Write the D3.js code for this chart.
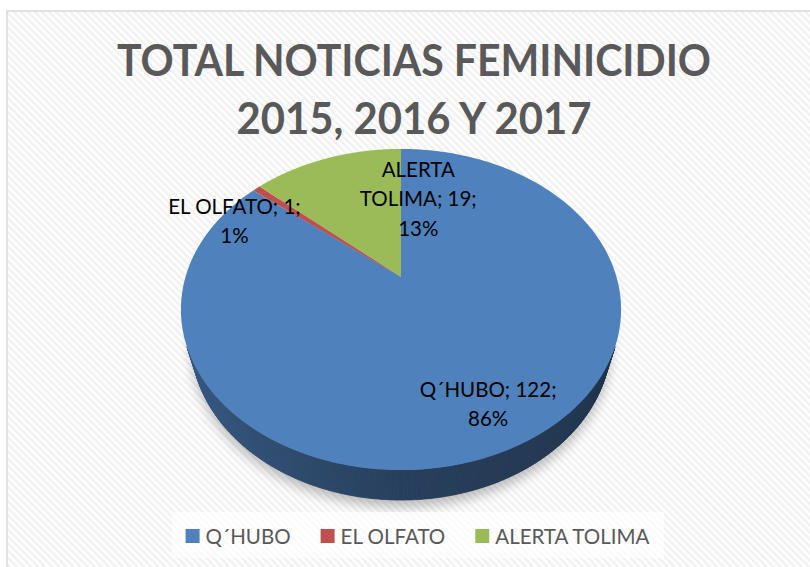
<!DOCTYPE html>
<html lang="es">
  <head>
    <meta charset="utf-8" />
    <script src="https://cdn.jsdelivr.net/npm/d3@7/dist/d3.min.js"></script>
    <title>Total noticias feminicidio</title>
    <style>
      body { margin: 0; background: #fff; }
      text { font-family: Lato, "Open Sans", sans-serif; }
    </style>
  </head>
  <body>
    <div id="container"></div>
    <script>
      // data
      const categories = ["Q´HUBO", "EL OLFATO", "ALERTA TOLIMA"];
      const values = [122, 1, 19];
      const colors = ["#4f81bd", "#c0504d", "#9bbb59"];
      const titleLines = ["TOTAL NOTICIAS FEMINICIDIO", "2015, 2016 Y 2017"];
      // where Excel dropped each label, as (angle deg, radius) on the disc
      const labelAngle = [154, 295, 9];
      const labelRadius = [0.79, 0.92, 0.57];

      const width = 810, height = 567;
      const svg = d3.select("#container").append("svg").attr("width", width).attr("height", height);
      const defs = svg.append("defs");

      const pat = defs.append("pattern").attr("id", "stripes").attr("width", 5).attr("height", 5)
        .attr("patternUnits", "userSpaceOnUse").attr("patternTransform", "rotate(-45)");
      pat.append("rect").attr("width", 5).attr("height", 5).attr("fill", "#fff");
      pat.append("rect").attr("width", 2.5).attr("height", 5).attr("fill", "#f1f1f1");

      const blur = defs.append("filter").attr("id", "shadow").attr("x", "-20%").attr("y", "-20%").attr("width", "140%").attr("height", "140%");
      blur.append("feGaussianBlur").attr("stdDeviation", 6);

      // chart area
      svg.append("rect").attr("x", 7).attr("y", 11).attr("width", 820).attr("height", 570)
        .attr("fill", "url(#stripes)").attr("stroke", "#d9d9d9").attr("stroke-width", 1.5);

      // title
      const titleLen = [594, 355];
      svg.selectAll(".title").data(titleLines).join("text").attr("class", "title")
        .attr("x", 414).attr("y", (d, i) => 76 + i * 58)
        .attr("text-anchor", "middle").attr("font-size", 43).attr("font-weight", "bold").attr("fill", "#595959")
        .attr("textLength", (d, i) => titleLen[i]).attr("lengthAdjust", "spacingAndGlyphs")
        .text((d) => d);

      // 3D perspective projection of a unit disc
      const cx = 401, cy = 277;
      const elev = (45.6 * Math.PI) / 180, sE = Math.sin(elev), cE = Math.cos(elev);
      const dist = 3.454, focal = 744.4, depth = 0.228;
      function proj(X, Y, Z) {
        const py = Y + dist * cE, pz = Z - dist * sE;
        const d = py * cE - pz * sE;
        const ys = py * sE + pz * cE;
        return [cx + (focal * X) / d, cy - (focal * ys) / d];
      }
      const onDisc = (a, r, z) => proj(r * Math.sin(a), r * Math.cos(a), z);

      const total = d3.sum(values);
      const pie = d3.pie().sort(null).value((d) => d.value);
      const arcs = pie(categories.map((c, i) => ({ name: c, value: values[i], color: colors[i], i })));
      const line = d3.line();

      function rim(a0, a1, z) {
        const n = Math.max(2, Math.ceil(((a1 - a0) * 180) / Math.PI));
        return d3.range(n + 1).map((k) => onDisc(a0 + ((a1 - a0) * k) / n, 1, z));
      }

      const g = svg.append("g");

      // soft shadow under the pie
      g.append("path").attr("d", line(rim(0, 2 * Math.PI, -depth)) + "Z")
        .attr("transform", "translate(0,7)").attr("fill", "#000").attr("opacity", 0.25).attr("filter", "url(#shadow)");

      // side wall, only the part facing the camera
      const shadeK = d3.scaleLinear().domain([-1, 0, 1]).range([0.95, 2.0, 2.6]);
      const step = Math.PI / 360;
      const wall = [];
      arcs.forEach((s) => {
        for (let a = s.startAngle; a < s.endAngle - 1e-9; a += step) {
          const b = Math.min(a + step, s.endAngle);
          const m = (a + b) / 2;
          if (Math.cos(m) < -1 / (dist * cE)) {
            wall.push({ a, b, m, color: d3.color(s.data.color).darker(shadeK(Math.sin(m))).formatHex() });
          }
        }
      });
      g.selectAll(".wall").data(wall).join("path").attr("class", "wall")
        .attr("d", (w) => line([onDisc(w.a, 1, 0), onDisc(w.b, 1, 0), onDisc(w.b, 1, -depth), onDisc(w.a, 1, -depth)]) + "Z")
        .attr("fill", (w) => w.color).attr("stroke", (w) => w.color).attr("stroke-width", 0.8);

      // top face
      g.selectAll(".slice").data(arcs).join("path").attr("class", "slice")
        .attr("d", (s) => line([proj(0, 0, 0), ...rim(s.startAngle, s.endAngle, 0)]) + "Z")
        .attr("fill", (s) => s.data.color);

      // data labels
      const labelSize = 20.5;
      const labels = svg.append("g").attr("font-size", labelSize).attr("fill", "#000").attr("text-anchor", "middle");
      const measure = svg.append("text").attr("font-size", labelSize).attr("visibility", "hidden");
      function wrap(words, maxW) {
        const out = [];
        let cur = "";
        words.forEach((w) => {
          const tryS = cur ? cur + " " + w : w;
          measure.text(tryS);
          if (cur && measure.node().getComputedTextLength() > maxW) { out.push(cur); cur = w; }
          else cur = tryS;
        });
        if (cur) out.push(cur);
        return out;
      }
      arcs.forEach((s, i) => {
        const pct = Math.round((s.data.value / total) * 100) + "%";
        const lines = wrap((s.data.name + "; " + s.data.value + "; " + pct).split(" "), 142);
        const [lx, ly] = onDisc((labelAngle[i] * Math.PI) / 180, labelRadius[i], 0);
        const lh = 29.5;
        const t = labels.append("text").attr("x", lx).attr("y", ly - ((lines.length - 1) * lh) / 2 + 7);
        lines.forEach((l, k) => t.append("tspan").attr("x", lx).attr("dy", k ? lh : 0).text(l));
      });
      measure.remove();

      // legend
      const leg = svg.append("g");
      leg.append("rect").attr("x", 172).attr("y", 512).attr("width", 492).attr("height", 46).attr("fill", "#fff").attr("opacity", 0.65);
      let lx = 0;
      const items = leg.append("g").attr("font-size", 20.5).attr("fill", "#595959");
      categories.forEach((c, i) => {
        const it = items.append("g").attr("transform", `translate(${lx},0)`);
        it.append("rect").attr("x", 0).attr("y", -7).attr("width", 14).attr("height", 14).attr("fill", colors[i]);
        const tx = it.append("text").attr("x", 20).attr("y", 7.5).text(c);
        lx += 20 + tx.node().getComputedTextLength() + 30;
      });
      const legW = lx - 30;
      items.attr("transform", `translate(${417.5 - legW / 2},536)`);
    </script>
  </body>
</html>
